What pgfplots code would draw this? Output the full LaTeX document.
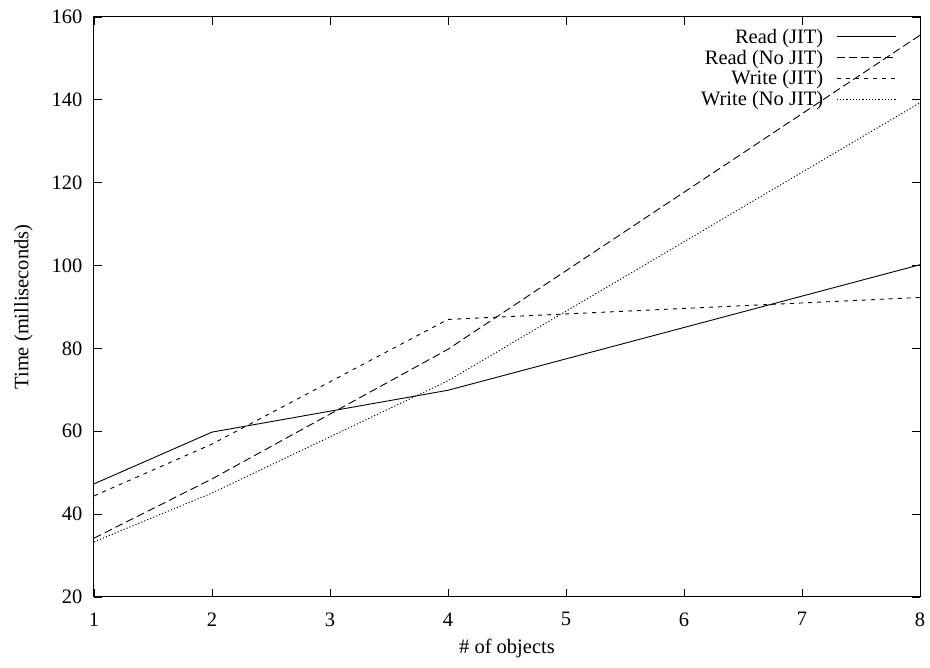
\documentclass[border=0pt]{standalone}
\usepackage{pgfplots}
\pgfplotsset{compat=1.18}
\usepackage{fontspec}
\setmainfont{Liberation Serif}
\newcommand{\rf}{\fontsize{20.5pt}{23pt}\selectfont}
\begin{document}
\begin{tikzpicture}
\useasboundingbox (0pt,0pt) rectangle (930pt,668pt);
\begin{axis}[
  at={(94pt,71pt)}, anchor=south west,
  scale only axis, width=826pt, height=580pt,
  xmin=1, xmax=8, ymin=20, ymax=160,
  xtick={1,...,8}, ytick={20,40,...,160},
  tick align=inside, major tick length=8pt,
  axis line style={line width=1pt},
  tick style={line width=0.8pt, black},
  /pgf/number format/assume math mode=true,
  ticklabel style={font=\rf},
  xticklabel style={yshift=-12pt},
  yticklabel style={xshift=-8pt},
  xlabel={\# of objects}, ylabel={Time (milliseconds)},
  label style={font=\rf},
  xlabel style={yshift=-6pt},
  ylabel style={yshift=12pt},
  legend style={draw=none, fill=none, at={(0.975,0.985)}, anchor=north east,
    font=\rf, row sep=3.2pt, nodes={inner sep=1pt}},
  legend cell align=right, legend plot pos=right,
  legend image code/.code={\path (0pt,0pt); \draw[#1] (12pt,0pt) -- (71pt,0pt);},
  every axis plot/.append style={line width=0.9pt, black},
]
\addplot[solid] coordinates {(1,47.3) (2,59.8) (4,69.9) (8,100.2)};
\addlegendentry{Read (JIT)}
\addplot[dash pattern=on 8pt off 4pt] coordinates {(1,34.2) (2,48.5) (4,79.8) (8,155.6)};
\addlegendentry{Read (No JIT)}
\addplot[dash pattern=on 4pt off 5pt] coordinates {(1,44.4) (2,56.9) (4,87.0) (8,92.3)};
\addlegendentry{Write (JIT)}
\addplot[dash pattern=on 1.2pt off 2pt] coordinates {(1,33.3) (2,45.1) (4,72.2) (8,139.3)};
\addlegendentry{Write (No JIT)}
\end{axis}
\end{tikzpicture}
\end{document}
